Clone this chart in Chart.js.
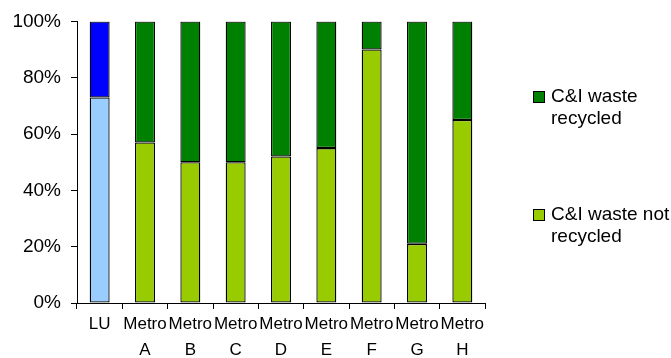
<!DOCTYPE html>
<html>
<head>
<meta charset="utf-8">
<script src="https://cdn.jsdelivr.net/npm/chart.js@4/dist/chart.umd.min.js"></script>
<style>
  html, body { margin: 0; padding: 0; background: #fff; }
  #wrap { width: 671px; height: 358px; }
</style>
</head>
<body>
<div id="wrap"><canvas id="chart" width="671" height="358"></canvas></div>
<script>
// categories (two-line tick labels)
var categories = [['LU'], ['Metro', 'A'], ['Metro', 'B'], ['Metro', 'C'], ['Metro', 'D'],
                  ['Metro', 'E'], ['Metro', 'F'], ['Metro', 'G'], ['Metro', 'H']];

// share of C&I waste, percent
var notRecycled = [73, 57, 50, 50, 52, 55, 90, 21, 65];
var recycled    = [27, 43, 50, 50, 48, 45, 10, 79, 35];

var yTicks = [0, 20, 40, 60, 80, 100];

// LU bar is shown in blues, the metros in greens
var notRecColors = ['#99CCFF', '#99CC00', '#99CC00', '#99CC00', '#99CC00', '#99CC00', '#99CC00', '#99CC00', '#99CC00'];
var recColors    = ['#0000FF', '#008000', '#008000', '#008000', '#008000', '#008000', '#008000', '#008000', '#008000'];

var legendItems = [
    { lines: ['C&I waste', 'recycled'], color: '#008000' },
    { lines: ['C&I waste not', 'recycled'], color: '#99CC00' }
];

var font = 'Arial, "Liberation Sans", sans-serif';

// legend drawn by hand so the labels can wrap on two lines
var sideLegend = {
    id: 'sideLegend',
    afterDraw: function(chart) {
        var c = chart.ctx;
        var x = Math.round(chart.chartArea.right) + 48;
        var rows = [97, 215];
        c.save();
        c.font = '19px ' + font;
        c.textBaseline = 'middle';
        legendItems.forEach(function(it, i) {
            var y = rows[i];
            c.fillStyle = it.color;
            c.fillRect(x, y - 6, 12, 12);
            c.strokeStyle = '#000';
            c.lineWidth = 1;
            c.strokeRect(x + 0.5, y - 5.5, 11, 11);
            c.fillStyle = '#000';
            it.lines.forEach(function(t, j) {
                c.fillText(t, x + 18, y + j * 22);
            });
        });
        c.restore();
    }
};

var ctx = document.getElementById('chart').getContext('2d');
var chart = new Chart(ctx, {
    type: 'bar',
    data: {
        labels: categories,
        datasets: [
            {
                label: 'C&I waste not recycled',
                data: notRecycled,
                backgroundColor: notRecColors,
                borderColor: '#000',
                borderWidth: 1.3,
                borderSkipped: false
            },
            {
                label: 'C&I waste recycled',
                data: recycled,
                backgroundColor: recColors,
                borderColor: '#000',
                borderWidth: 1.3,
                borderSkipped: false
            }
        ]
    },
    options: {
        responsive: false,
        animation: false,
        layout: { padding: { top: 20, right: 186, left: 0, bottom: 0 } },
        datasets: { bar: { categoryPercentage: 1, barPercentage: 0.44 } },
        plugins: {
            legend: { display: false },
            tooltip: { enabled: false }
        },
        scales: {
            x: {
                stacked: true,
                offset: true,
                grid: { offset: true, drawOnChartArea: false, color: '#000', tickLength: 6 },
                border: { color: '#000' },
                ticks: {
                    color: '#000',
                    maxRotation: 0,
                    autoSkip: false,
                    padding: 2,
                    font: { family: font, size: 17, lineHeight: 1.55 }
                },
                afterFit: function(s) { s.height = 55; }
            },
            y: {
                stacked: true,
                min: 0,
                max: 100,
                grid: { drawOnChartArea: false, color: '#000', tickLength: 6 },
                border: { color: '#000' },
                afterBuildTicks: function(s) { s.ticks = yTicks.map(function(v) { return { value: v }; }); },
                ticks: {
                    color: '#000',
                    padding: 10,
                    font: { family: font, size: 19 },
                    callback: function(v) { return v + '%'; }
                },
                afterFit: function(s) { s.width = 77; }
            }
        }
    },
    plugins: [sideLegend]
});
</script>
</body>
</html>
